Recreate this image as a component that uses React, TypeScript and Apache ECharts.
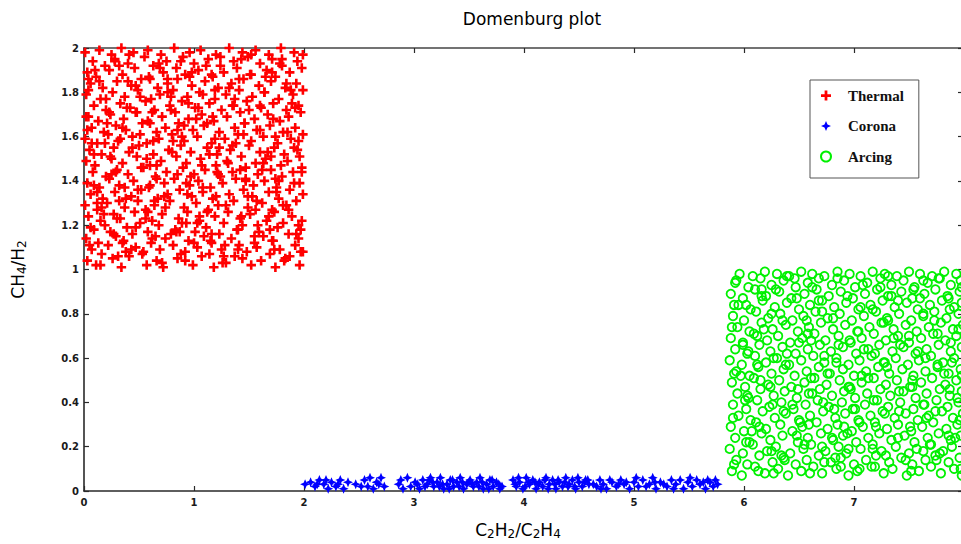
import React, { useEffect, useRef } from "react";
import * as echarts from "echarts";

const seriesNames = ["Thermal", "Corona", "Arcing"];

const thermalPoints: number[][] = [
  [0.03,1.04],[0.11,1.02],[0.26,1.05],[0.34,1.01],[0.41,1.06],[0.57,1.02],[0.66,1.04],[0.72,1.01],[0.85,1.05],[0.99,1.02],[1.07,1.06],[1.18,1.01],[1.29,1.03],[1.37,1.06],[1.52,1.02],[1.61,1.04],[1.74,1.01],[1.83,1.05],[1.96,1.02],
  [0.07,1.09],[0.16,1.07],[0.22,1.11],[0.38,1.08],[0.47,1.10],[0.53,1.07],[0.69,1.09],[0.81,1.11],[0.92,1.08],[1.03,1.10],[1.14,1.07],[1.25,1.09],[1.41,1.11],[1.48,1.08],[1.57,1.10],[1.69,1.07],[1.78,1.09],[1.92,1.11],[1.99,1.08],
  [0.02,1.14],[0.13,1.12],[0.29,1.15],[0.36,1.13],[0.44,1.16],[0.61,1.12],[0.74,1.14],[0.79,1.16],[0.95,1.13],[1.09,1.15],[1.16,1.12],[1.23,1.16],[1.34,1.14],[1.55,1.12],[1.63,1.15],[1.72,1.13],[1.86,1.16],[1.95,1.14],
  [0.09,1.18],[0.19,1.20],[0.24,1.17],[0.39,1.19],[0.51,1.21],[0.58,1.17],[0.68,1.20],[0.83,1.18],[0.89,1.21],[1.01,1.17],[1.11,1.19],[1.27,1.21],[1.39,1.18],[1.44,1.20],[1.59,1.17],[1.76,1.19],[1.81,1.21],[1.97,1.18],
  [0.04,1.24],[0.15,1.22],[0.27,1.25],[0.33,1.23],[0.46,1.26],[0.62,1.22],[0.71,1.25],[0.86,1.23],[0.94,1.26],[1.05,1.22],[1.19,1.24],[1.31,1.26],[1.42,1.23],[1.51,1.25],[1.66,1.22],[1.73,1.26],[1.89,1.24],[1.98,1.22],
  [0.01,1.29],[0.12,1.27],[0.21,1.30],[0.37,1.28],[0.49,1.31],[0.56,1.27],[0.64,1.29],[0.78,1.31],[0.91,1.28],[1.02,1.30],[1.13,1.27],[1.22,1.29],[1.36,1.31],[1.49,1.28],[1.62,1.30],[1.71,1.27],[1.84,1.29],[1.93,1.31],
  [0.06,1.34],[0.17,1.32],[0.28,1.35],[0.43,1.33],[0.52,1.36],[0.67,1.32],[0.76,1.34],[0.87,1.36],[0.98,1.33],[1.08,1.35],[1.17,1.32],[1.32,1.34],[1.45,1.36],[1.53,1.33],[1.68,1.35],[1.77,1.32],[1.87,1.36],[1.99,1.34],
  [0.03,1.39],[0.14,1.37],[0.23,1.41],[0.32,1.38],[0.45,1.40],[0.59,1.37],[0.73,1.39],[0.82,1.41],[0.96,1.38],[1.04,1.40],[1.15,1.37],[1.26,1.39],[1.38,1.41],[1.54,1.38],[1.64,1.40],[1.75,1.37],[1.91,1.39],
  [0.08,1.44],[0.20,1.42],[0.30,1.45],[0.40,1.43],[0.54,1.46],[0.65,1.42],[0.75,1.44],[0.90,1.46],[1.00,1.43],[1.10,1.45],[1.24,1.42],[1.35,1.44],[1.47,1.46],[1.58,1.43],[1.70,1.45],[1.80,1.42],[1.90,1.44],[1.98,1.46],
  [0.02,1.49],[0.10,1.47],[0.25,1.50],[0.35,1.48],[0.48,1.51],[0.60,1.47],[0.70,1.49],[0.84,1.51],[0.93,1.48],[1.06,1.50],[1.20,1.47],[1.30,1.49],[1.43,1.51],[1.56,1.48],[1.65,1.50],[1.79,1.47],[1.85,1.49],[1.96,1.51],
  [0.05,1.54],[0.16,1.52],[0.27,1.55],[0.41,1.53],[0.50,1.56],[0.63,1.52],[0.77,1.54],[0.88,1.56],[0.97,1.53],[1.12,1.55],[1.21,1.52],[1.33,1.54],[1.50,1.56],[1.60,1.53],[1.73,1.55],[1.82,1.52],[1.94,1.54],
  [0.01,1.59],[0.12,1.57],[0.22,1.61],[0.31,1.58],[0.44,1.60],[0.57,1.57],[0.68,1.59],[0.80,1.61],[0.91,1.58],[1.03,1.60],[1.16,1.57],[1.28,1.59],[1.40,1.61],[1.52,1.58],[1.63,1.60],[1.76,1.57],[1.88,1.59],[1.99,1.61],
  [0.07,1.64],[0.18,1.62],[0.29,1.65],[0.38,1.63],[0.53,1.66],[0.66,1.62],[0.74,1.64],[0.86,1.66],[0.99,1.63],[1.09,1.65],[1.23,1.62],[1.37,1.64],[1.46,1.66],[1.57,1.63],[1.69,1.65],[1.81,1.62],[1.92,1.64],
  [0.04,1.69],[0.13,1.67],[0.24,1.70],[0.36,1.68],[0.47,1.71],[0.58,1.67],[0.71,1.69],[0.83,1.71],[0.95,1.68],[1.07,1.70],[1.18,1.67],[1.30,1.69],[1.42,1.71],[1.55,1.68],[1.67,1.70],[1.78,1.67],[1.86,1.69],[1.97,1.71],
  [0.09,1.74],[0.20,1.72],[0.33,1.75],[0.42,1.73],[0.56,1.76],[0.64,1.72],[0.78,1.74],[0.89,1.76],[1.01,1.73],[1.14,1.75],[1.25,1.72],[1.35,1.74],[1.48,1.76],[1.61,1.73],[1.72,1.75],[1.84,1.72],[1.95,1.74],
  [0.02,1.79],[0.15,1.77],[0.26,1.80],[0.37,1.78],[0.49,1.81],[0.61,1.77],[0.69,1.79],[0.81,1.81],[0.94,1.78],[1.05,1.80],[1.19,1.77],[1.29,1.79],[1.41,1.81],[1.53,1.78],[1.64,1.80],[1.77,1.77],[1.90,1.79],[1.99,1.81],
  [0.06,1.84],[0.17,1.82],[0.30,1.85],[0.43,1.83],[0.52,1.86],[0.67,1.82],[0.76,1.84],[0.85,1.86],[0.98,1.83],[1.10,1.85],[1.22,1.82],[1.34,1.84],[1.45,1.86],[1.59,1.83],[1.70,1.85],[1.83,1.82],[1.93,1.84],
  [0.03,1.89],[0.11,1.87],[0.23,1.90],[0.35,1.88],[0.46,1.91],[0.59,1.87],[0.72,1.89],[0.84,1.91],[0.92,1.88],[1.04,1.90],[1.17,1.87],[1.27,1.89],[1.39,1.91],[1.51,1.88],[1.66,1.90],[1.74,1.87],[1.87,1.89],[1.98,1.91],
  [0.08,1.94],[0.19,1.92],[0.28,1.95],[0.40,1.93],[0.55,1.96],[0.63,1.92],[0.75,1.94],[0.90,1.96],[1.00,1.93],[1.13,1.95],[1.24,1.92],[1.36,1.94],[1.49,1.96],[1.60,1.93],[1.71,1.95],[1.80,1.92],[1.94,1.94],
  [0.01,1.98],[0.14,1.99],[0.25,1.97],[0.34,2.00],[0.45,1.98],[0.58,1.99],[0.70,1.97],[0.82,2.00],[0.96,1.98],[1.06,1.99],[1.20,1.97],[1.32,2.00],[1.44,1.98],[1.56,1.99],[1.68,1.97],[1.79,2.00],[1.91,1.98],
  [0.12,1.35],[0.47,1.83],[0.93,1.21],[1.38,1.57],[1.73,1.09],[0.21,1.66],[0.66,1.47],[1.11,1.92],[1.57,1.31],[1.89,1.75],[0.35,1.12],[0.81,1.58],[1.26,1.03],[1.65,1.87],[0.04,1.81],[0.58,1.26],[1.02,1.68],[1.47,1.41],[1.93,1.16],[0.28,1.94],
  [0.73,1.33],[1.19,1.81],[1.62,1.45],[0.09,1.52],[0.54,1.08],[0.98,1.89],[1.43,1.24],[1.85,1.62],[0.39,1.73],[0.87,1.17],[1.31,1.48],[1.78,1.93],[0.16,1.28],[0.62,1.71],[1.08,1.37],[1.52,1.97],[1.96,1.39],[0.44,1.55],[0.92,1.04],[1.37,1.77],
  [1.81,1.29],[0.25,1.43],[0.69,1.91],[1.15,1.13],[1.60,1.63],[0.06,1.19],[0.51,1.61],[0.97,1.42],[1.41,1.86],[1.87,1.06],[0.32,1.31],[0.79,1.78],[1.23,1.55],[1.69,1.18],[0.14,1.85],[0.60,1.38],[1.05,1.24],[1.50,1.72],[1.95,1.58],[0.41,1.97],
  [0.85,1.63],[1.28,1.11],[1.74,1.41],[0.19,1.57],[0.65,1.15],[1.12,1.66],[1.56,1.27],[0.02,1.69],[0.49,1.36],[0.95,1.75],[1.40,1.09],[1.84,1.84],[0.30,1.23],[0.76,1.86],[1.21,1.44],[1.67,1.53],
  [0.05,1.11],[0.31,1.06],[0.62,1.14],[0.88,1.07],[1.16,1.16],[1.44,1.05],[1.71,1.13],[1.97,1.08],[0.18,1.25],[0.47,1.19],[0.74,1.28],[1.03,1.21],[1.29,1.29],[1.58,1.20],[1.86,1.27],
  [0.09,1.38],[0.38,1.32],[0.66,1.41],[0.94,1.34],[1.22,1.43],[1.49,1.33],[1.77,1.40],[0.24,1.51],[0.52,1.46],[0.80,1.53],[1.07,1.47],[1.35,1.56],[1.63,1.48],[1.91,1.55],
  [0.03,1.63],[0.33,1.59],[0.60,1.66],[0.89,1.60],[1.17,1.69],[1.45,1.61],[1.72,1.68],[0.20,1.77],[0.48,1.71],[0.76,1.80],[1.04,1.73],[1.32,1.82],[1.60,1.74],[1.88,1.81],
  [0.10,1.90],[0.40,1.85],[0.68,1.93],[0.96,1.87],[1.24,1.96],[1.52,1.88],[1.80,1.95],[0.15,1.02],[0.43,1.09],[0.71,1.03],[1.00,1.12],[1.27,1.06],[1.55,1.15],[1.82,1.04],
  [0.27,1.16],[0.56,1.23],[0.84,1.17],[1.12,1.26],[1.40,1.18],[1.68,1.24],[1.95,1.20],[0.12,1.30],[0.37,1.37],[0.64,1.31],[0.93,1.39],[1.20,1.33],[1.47,1.40],[1.75,1.35],
  [0.29,1.44],[0.57,1.50],[0.85,1.43],[1.14,1.52],[1.42,1.45],[1.70,1.51],[1.98,1.44],[0.07,1.57],[0.35,1.64],[0.63,1.58],[0.91,1.65],[1.19,1.59],[1.46,1.66],[1.74,1.60],
  [0.23,1.71],[0.51,1.78],[0.79,1.72],[1.08,1.79],[1.36,1.74],[1.64,1.80],[1.92,1.73],[0.04,1.86],[0.32,1.92],[0.60,1.86],[0.88,1.94],[1.16,1.88],[1.43,1.95],[1.71,1.89],[1.99,1.97]
];

const coronaPoints: number[][] = [
  [2.01,0.03],[2.06,0.04],[2.10,0.02],[2.14,0.05],[2.18,0.03],[2.22,0.01],[2.25,0.04],[2.29,0.02],[2.33,0.05],[2.36,0.01],[2.47,0.03],[2.55,0.05],[2.58,0.02],[2.60,0.06],[2.63,0.01],[2.66,0.04],[2.70,0.06],[2.73,0.02],
  [2.86,0.03],[2.90,0.01],[2.94,0.06],[2.97,0.02],[3.01,0.04],[3.05,0.01],[3.08,0.05],[3.12,0.03],[3.15,0.06],[3.18,0.02],[3.21,0.04],[3.24,0.06],[3.27,0.01],[3.30,0.03],[3.33,0.05],[3.36,0.02],[3.39,0.04],[3.42,0.06],
  [3.45,0.01],[3.48,0.03],[3.51,0.05],[3.54,0.02],[3.57,0.04],[3.60,0.06],[3.63,0.01],[3.66,0.03],[3.69,0.05],[3.72,0.02],[3.75,0.04],[3.78,0.01],[3.90,0.05],[3.93,0.02],[3.96,0.04],[3.99,0.01],[4.02,0.06],[4.05,0.03],
  [4.08,0.05],[4.11,0.01],[4.14,0.04],[4.17,0.02],[4.20,0.06],[4.23,0.03],[4.26,0.05],[4.29,0.01],[4.32,0.04],[4.35,0.02],[4.38,0.06],[4.41,0.03],[4.44,0.05],[4.47,0.01],[4.50,0.04],[4.53,0.02],[4.56,0.05],[4.59,0.03],
  [4.66,0.02],[4.69,0.05],[4.72,0.03],[4.75,0.01],[4.80,0.04],[4.84,0.02],[4.88,0.05],[4.91,0.03],[4.96,0.01],[5.00,0.04],[5.04,0.02],[5.08,0.05],[5.14,0.03],[5.17,0.06],[5.20,0.01],[5.24,0.04],[5.30,0.02],[5.34,0.05],
  [5.38,0.03],[5.45,0.01],[5.49,0.04],[5.53,0.02],[5.57,0.05],[5.60,0.03],[5.65,0.01],[5.69,0.04],[5.72,0.02],[5.76,0.03],
  [3.10,0.02],[3.17,0.04],[3.26,0.03],[3.35,0.05],[3.44,0.04],[3.53,0.03],[3.62,0.04],[3.71,0.05],[3.80,0.02],[3.92,0.03],[4.01,0.02],[4.10,0.04],[4.19,0.05],[4.28,0.03],[4.37,0.04],[4.46,0.02],[4.55,0.04],[4.63,0.03],
  [4.78,0.05],[4.93,0.04],[5.11,0.02],[5.27,0.03],[5.42,0.05],[5.63,0.04],[2.40,0.04],[2.20,0.05],
  [2.12,0.03],[2.31,0.03],[2.68,0.03],[2.88,0.05],[3.03,0.03],[3.14,0.05],[3.23,0.02],[3.32,0.01],[3.41,0.02],[3.50,0.04],[3.59,0.02],[3.68,0.01],[3.77,0.03],[3.95,0.06],[4.04,0.04],
  [4.13,0.03],[4.22,0.01],[4.31,0.05],[4.40,0.02],[4.49,0.06],[4.58,0.05],[4.70,0.01],[4.86,0.03],[5.02,0.06],[5.19,0.04],[5.36,0.01],[5.51,0.06],[5.67,0.05],[5.74,0.05],[2.52,0.02]
];

const arcingPoints: number[][] = [
  [5.89,0.09],[5.98,0.07],[6.10,0.11],[6.19,0.08],[6.31,0.10],[6.40,0.07],[6.52,0.09],[6.63,0.11],[6.71,0.08],[6.84,0.10],[6.95,0.07],[7.03,0.09],[7.16,0.11],[7.27,0.08],[7.35,0.10],[7.48,0.07],[7.59,0.09],[7.70,0.11],[7.79,0.08],[7.91,0.10],[7.98,0.07],
  [5.93,0.14],[6.03,0.12],[6.14,0.16],[6.26,0.13],[6.36,0.15],[6.47,0.12],[6.57,0.14],[6.68,0.16],[6.79,0.13],[6.88,0.15],[7.00,0.12],[7.11,0.14],[7.20,0.16],[7.32,0.13],[7.43,0.15],[7.53,0.12],[7.65,0.14],[7.74,0.16],[7.86,0.13],[7.96,0.15],
  [5.87,0.19],[5.99,0.17],[6.08,0.21],[6.21,0.18],[6.29,0.20],[6.42,0.17],[6.54,0.19],[6.61,0.21],[6.74,0.18],[6.86,0.20],[6.93,0.17],[7.06,0.19],[7.17,0.21],[7.25,0.18],[7.38,0.20],[7.50,0.17],[7.57,0.19],[7.69,0.21],[7.81,0.18],[7.89,0.20],
  [5.92,0.24],[6.05,0.22],[6.16,0.26],[6.24,0.23],[6.35,0.25],[6.49,0.22],[6.58,0.24],[6.70,0.26],[6.81,0.23],[6.90,0.25],[7.02,0.22],[7.13,0.24],[7.23,0.26],[7.34,0.23],[7.46,0.25],[7.55,0.22],[7.67,0.24],[7.77,0.26],[7.88,0.23],[7.97,0.25],
  [5.88,0.29],[6.00,0.27],[6.11,0.31],[6.20,0.28],[6.33,0.30],[6.44,0.27],[6.53,0.29],[6.66,0.31],[6.76,0.28],[6.85,0.30],[6.98,0.27],[7.08,0.29],[7.19,0.31],[7.30,0.28],[7.40,0.30],[7.52,0.27],[7.62,0.29],[7.72,0.31],[7.84,0.28],[7.94,0.30],
  [5.95,0.34],[6.06,0.32],[6.17,0.36],[6.28,0.33],[6.38,0.35],[6.50,0.32],[6.60,0.34],[6.72,0.36],[6.83,0.33],[6.92,0.35],[7.04,0.32],[7.15,0.34],[7.26,0.36],[7.37,0.33],[7.47,0.35],[7.58,0.32],[7.68,0.34],[7.80,0.36],[7.90,0.33],[7.99,0.35],
  [5.90,0.39],[6.02,0.37],[6.12,0.41],[6.23,0.38],[6.34,0.40],[6.45,0.37],[6.56,0.39],[6.67,0.41],[6.77,0.38],[6.89,0.40],[6.99,0.37],[7.10,0.39],[7.21,0.41],[7.31,0.38],[7.42,0.40],[7.54,0.37],[7.63,0.39],[7.75,0.41],[7.85,0.38],[7.95,0.40],
  [5.94,0.44],[6.04,0.42],[6.15,0.46],[6.27,0.43],[6.37,0.45],[6.48,0.42],[6.59,0.44],[6.69,0.46],[6.80,0.43],[6.91,0.45],[7.01,0.42],[7.12,0.44],[7.24,0.46],[7.33,0.43],[7.45,0.45],[7.56,0.42],[7.66,0.44],[7.78,0.46],[7.87,0.43],[7.98,0.45],
  [5.89,0.49],[6.01,0.47],[6.09,0.51],[6.22,0.48],[6.32,0.50],[6.43,0.47],[6.55,0.49],[6.64,0.51],[6.75,0.48],[6.87,0.50],[6.96,0.47],[7.07,0.49],[7.18,0.51],[7.29,0.48],[7.39,0.50],[7.51,0.47],[7.61,0.49],[7.71,0.51],[7.83,0.48],[7.93,0.50],
  [5.93,0.54],[6.05,0.52],[6.13,0.56],[6.25,0.53],[6.36,0.55],[6.46,0.52],[6.57,0.54],[6.68,0.56],[6.78,0.53],[6.90,0.55],[7.00,0.52],[7.11,0.54],[7.22,0.56],[7.32,0.53],[7.44,0.55],[7.54,0.52],[7.65,0.54],[7.76,0.56],[7.86,0.53],[7.97,0.55],
  [5.87,0.59],[5.98,0.57],[6.10,0.61],[6.20,0.58],[6.30,0.60],[6.41,0.57],[6.52,0.59],[6.63,0.61],[6.73,0.58],[6.84,0.60],[6.95,0.57],[7.05,0.59],[7.16,0.61],[7.27,0.58],[7.38,0.60],[7.49,0.57],[7.59,0.59],[7.70,0.61],[7.81,0.58],[7.91,0.60],
  [5.92,0.64],[6.03,0.62],[6.14,0.66],[6.24,0.63],[6.35,0.65],[6.47,0.62],[6.58,0.64],[6.69,0.66],[6.79,0.63],[6.90,0.65],[7.02,0.62],[7.13,0.64],[7.23,0.66],[7.35,0.63],[7.45,0.65],[7.56,0.62],[7.66,0.64],[7.77,0.66],[7.88,0.63],[7.98,0.65],
  [5.88,0.69],[5.99,0.67],[6.09,0.71],[6.21,0.68],[6.31,0.70],[6.42,0.67],[6.53,0.69],[6.64,0.71],[6.74,0.68],[6.86,0.70],[6.97,0.67],[7.07,0.69],[7.18,0.71],[7.29,0.68],[7.40,0.70],[7.50,0.67],[7.61,0.69],[7.72,0.71],[7.83,0.68],[7.93,0.70],
  [5.94,0.74],[6.05,0.72],[6.16,0.76],[6.26,0.73],[6.38,0.75],[6.49,0.72],[6.59,0.74],[6.70,0.76],[6.81,0.73],[6.92,0.75],[7.03,0.72],[7.14,0.74],[7.25,0.76],[7.36,0.73],[7.47,0.75],[7.57,0.72],[7.68,0.74],[7.79,0.76],[7.90,0.73],[7.99,0.75],
  [5.90,0.79],[6.00,0.77],[6.11,0.81],[6.22,0.78],[6.33,0.80],[6.44,0.77],[6.54,0.79],[6.65,0.81],[6.76,0.78],[6.87,0.80],[6.98,0.77],[7.09,0.79],[7.20,0.81],[7.30,0.78],[7.41,0.80],[7.52,0.77],[7.63,0.79],[7.73,0.81],[7.84,0.78],[7.95,0.80],
  [5.95,0.84],[6.06,0.82],[6.17,0.86],[6.28,0.83],[6.39,0.85],[6.50,0.82],[6.60,0.84],[6.71,0.86],[6.82,0.83],[6.93,0.85],[7.04,0.82],[7.15,0.84],[7.26,0.86],[7.37,0.83],[7.48,0.85],[7.58,0.82],[7.69,0.84],[7.80,0.86],[7.91,0.83],[7.98,0.85],
  [5.88,0.89],[5.99,0.87],[6.10,0.91],[6.20,0.88],[6.32,0.90],[6.43,0.87],[6.55,0.89],[6.66,0.91],[6.77,0.88],[6.88,0.90],[6.99,0.87],[7.10,0.89],[7.21,0.91],[7.31,0.88],[7.43,0.90],[7.53,0.87],[7.64,0.89],[7.74,0.91],[7.85,0.88],[7.96,0.90],
  [5.92,0.94],[6.04,0.92],[6.15,0.96],[6.25,0.93],[6.36,0.95],[6.47,0.92],[6.58,0.94],[6.68,0.96],[6.80,0.93],[6.91,0.95],[7.01,0.92],[7.12,0.94],[7.24,0.96],[7.34,0.93],[7.45,0.95],[7.55,0.92],[7.67,0.94],[7.78,0.96],[7.88,0.93],[7.97,0.95],
  [5.96,0.98],[6.08,0.97],[6.19,0.99],[6.30,0.98],[6.41,0.97],[6.52,0.99],[6.62,0.98],[6.73,0.97],[6.85,0.99],[6.96,0.98],[7.06,0.97],[7.17,0.99],[7.28,0.98],[7.39,0.97],[7.50,0.99],[7.60,0.98],[7.71,0.97],[7.82,0.99],[7.93,0.98],
  [6.07,0.27],[6.39,0.62],[6.73,0.13],[7.06,0.83],[7.41,0.36],[7.76,0.71],[5.97,0.52],[6.29,0.91],[6.62,0.44],[6.95,0.19],[7.28,0.58],[7.63,0.95],[7.92,0.24],[6.18,0.73],[6.51,0.31],[6.86,0.66],[7.19,0.11],[7.53,0.47],[7.87,0.82],[6.01,0.41],
  [6.34,0.16],[6.68,0.86],[7.01,0.37],[7.36,0.69],[7.70,0.21],[5.91,0.84],[6.24,0.47],[6.57,0.77],[6.91,0.29],[7.24,0.92],[7.58,0.63],[7.94,0.42],[6.12,0.57],[6.46,0.96],[6.80,0.24],[7.13,0.51],[7.47,0.14],[7.82,0.53],[6.27,0.08],[6.61,0.68],
  [6.97,0.46],[7.31,0.77],[7.66,0.33],[5.99,0.66],[6.44,0.39],[6.88,0.11],[7.34,0.88],[7.78,0.17],[6.16,0.88],[6.55,0.21],[7.09,0.64],[7.60,0.87],[7.89,0.58],[6.76,0.53],[7.20,0.29],
  [5.91,0.12],[6.13,0.09],[6.37,0.14],[6.60,0.08],[6.83,0.15],[7.05,0.10],[7.29,0.16],[7.52,0.09],[7.75,0.14],[7.97,0.10],[6.02,0.22],[6.25,0.18],[6.48,0.25],[6.71,0.20],[6.94,0.26],[7.17,0.19],[7.40,0.24],[7.63,0.18],[7.86,0.25],
  [5.90,0.33],[6.14,0.29],[6.36,0.36],[6.59,0.30],[6.82,0.37],[7.05,0.31],[7.28,0.35],[7.51,0.29],[7.74,0.36],[7.96,0.32],[6.03,0.43],[6.26,0.39],[6.49,0.46],[6.72,0.40],[6.95,0.47],[7.18,0.41],[7.41,0.45],[7.64,0.39],[7.87,0.46],
  [5.91,0.53],[6.15,0.50],[6.38,0.57],[6.61,0.51],[6.84,0.58],[7.07,0.52],[7.30,0.56],[7.53,0.50],[7.76,0.57],[7.98,0.52],[6.04,0.63],[6.27,0.60],[6.50,0.67],[6.73,0.61],[6.96,0.68],[7.19,0.62],[7.42,0.66],[7.65,0.60],[7.88,0.67],
  [5.89,0.74],[6.12,0.70],[6.35,0.77],[6.58,0.71],[6.81,0.78],[7.04,0.72],[7.27,0.76],[7.50,0.70],[7.73,0.77],[7.95,0.73],[6.02,0.84],[6.25,0.80],[6.48,0.87],[6.71,0.81],[6.94,0.88],[7.17,0.82],[7.40,0.86],[7.63,0.80],[7.86,0.87],
  [5.93,0.95],[6.16,0.91],[6.39,0.97],[6.62,0.92],[6.85,0.96],[7.08,0.93],[7.31,0.97],[7.54,0.91],[7.77,0.96],[7.98,0.92]
];

const PLUS = "path://M2.9,0H5.1V2.9H8V5.1H5.1V8H2.9V5.1H0V2.9H2.9Z";
const STAR = "path://M5,0L6.5,3.5L10,5L6.5,6.5L5,10L3.5,6.5L0,5L3.5,3.5Z";

const AXIS_COLOR = "#2a2a2a";
const LABEL_FONT = "DejaVu Sans";

export default function App() {
  const ref = useRef<HTMLDivElement>(null);

  useEffect(() => {
    if (!ref.current) return;
    const chart = echarts.init(ref.current, null, { renderer: "svg" });
    const tickStyle = { show: true, inside: true, length: 5, lineStyle: { color: AXIS_COLOR, width: 1.2 } };
    const lineStyle = { show: true, onZero: false, lineStyle: { color: AXIS_COLOR, width: 1.6 } };
    const labelStyle = { color: "#1a1a1a", fontSize: 10, fontWeight: "bold" as const, fontFamily: LABEL_FONT };
    const nameRich = {
      a: { fontSize: 17, fontFamily: LABEL_FONT, color: "#000", lineHeight: 20, verticalAlign: "middle" as const },
      s: { fontSize: 12, fontFamily: LABEL_FONT, color: "#000", lineHeight: 20, verticalAlign: "bottom" as const },
    };
    chart.setOption({
      animation: false,
      backgroundColor: "#ffffff",
      title: {
        text: "Domenburg plot",
        left: 527,
        top: 5,
        textAlign: "center",
        textStyle: { fontFamily: LABEL_FONT, fontSize: 17, fontWeight: "normal", color: "#000" },
      },
      legend: {
        orient: "vertical",
        left: 810,
        top: 80,
        padding: [8, 15, 14, 10],
        itemGap: 15.5,
        itemWidth: 10,
        itemHeight: 10,
        borderColor: "#555",
        borderWidth: 1,
        backgroundColor: "#fff",
        data: seriesNames,
        textStyle: {
          fontFamily: "Liberation Serif",
          fontWeight: "bold",
          fontSize: 15,
          color: "#111",
          padding: [0, 0, 0, 12],
        },
      },
      grid: { left: 84, width: 880, top: 48, bottom: 53, containLabel: false, outerBoundsMode: "none" },
      xAxis: [
        {
          type: "value",
          min: 0,
          max: 8,
          interval: 1,
          position: "bottom",
          axisLine: lineStyle,
          axisTick: tickStyle,
          axisLabel: { ...labelStyle, margin: 6, showMaxLabel: false },
          splitLine: { show: false },
          name: "{a|C}{s|2}{a|H}{s|2}{a|/C}{s|2}{a|H}{s|4}",
          nameLocation: "middle",
          nameGap: 29,
          nameTextStyle: { rich: nameRich, padding: [0, 12, 0, 0] },
        },
        {
          type: "value",
          min: 0,
          max: 8,
          interval: 1,
          position: "top",
          axisLine: { show: true, onZero: false, lineStyle: { color: "#444", width: 1.6 } },
          axisTick: tickStyle,
          axisLabel: { show: false },
          splitLine: { show: false },
        },
      ],
      yAxis: [
        {
          type: "value",
          min: 0,
          max: 2,
          interval: 0.2,
          position: "left",
          axisLine: lineStyle,
          axisTick: tickStyle,
          axisLabel: { ...labelStyle, margin: 5 },
          splitLine: { show: false },
          name: "{a|CH}{s|4}{a|/H}{s|2}",
          nameLocation: "middle",
          nameRotate: 90,
          nameGap: 56,
          nameTextStyle: { rich: nameRich },
        },
        {
          type: "value",
          min: 0,
          max: 2,
          interval: 0.2,
          position: "right",
          axisLine: lineStyle,
          axisTick: { ...tickStyle, length: 6 },
          axisLabel: { show: false },
          splitLine: { show: false },
        },
      ],
      series: [
        {
          name: seriesNames[0],
          type: "scatter",
          data: thermalPoints,
          symbol: PLUS,
          symbolSize: 9.5,
          itemStyle: { color: "#ff0000", opacity: 1 },
        },
        {
          name: seriesNames[1],
          type: "scatter",
          data: coronaPoints,
          symbol: STAR,
          symbolSize: 10,
          itemStyle: { color: "#0000ff", opacity: 1 },
        },
        {
          name: seriesNames[2],
          type: "scatter",
          data: arcingPoints,
          symbol: "circle",
          symbolSize: 8.5,
          itemStyle: { color: "rgba(255,255,255,0)", borderColor: "#00f000", borderWidth: 1.8, opacity: 1 },
        },
      ],
    });
    return () => chart.dispose();
  }, []);

  return (
    <div
      ref={ref}
      style={{ position: "absolute", left: 0, top: 0, width: 961, height: 544, background: "#fff" }}
    />
  );
}
